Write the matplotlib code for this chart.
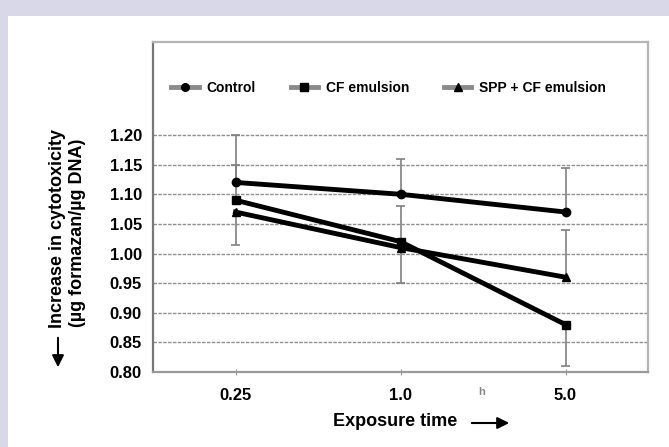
import matplotlib
matplotlib.use("Agg")
import matplotlib.pyplot as plt
import numpy as np
from matplotlib.lines import Line2D
from matplotlib.patches import Rectangle, FancyArrowPatch

plt.rcParams['font.family'] = ['Liberation Sans', 'DejaVu Sans']
plt.rcParams['font.weight'] = 'bold'

# ---- data ----
time_labels = ["0.25", "1.0", "5.0"]
series_names = ["Control", "CF emulsion", "SPP + CF emulsion"]
control = [1.12, 1.10, 1.07]
cf_emulsion = [1.09, 1.02, 0.88]
spp_cf = [1.07, 1.01, 0.96]
control_err_hi = [0.08, 0.06, 0.075]
control_err_lo = [0.0, 0.0, 0.0]
cf_err_hi = [0.06, 0.06, 0.0]
cf_err_lo = [0.0, 0.0, 0.07]
spp_err_hi = [0.0, 0.0, 0.08]
spp_err_lo = [0.055, 0.06, 0.0]
yticks = [0.80, 0.85, 0.90, 0.95, 1.00, 1.05, 1.10, 1.15, 1.20]

W, H = 669, 447
fig = plt.figure(figsize=(W / 100, H / 100), dpi=100)
fig.patch.set_facecolor('#d9d8e9')
fig.add_artist(Rectangle((8 / W, 0), 1, (H - 16) / H, transform=fig.transFigure,
                         facecolor='white', edgecolor='none', zorder=-10))

ax = fig.add_axes([153 / W, (H - 372) / H, (648 - 153) / W, (372 - 42) / H])
ax.set_zorder(1)
ax.set_facecolor('white')
x = np.arange(len(time_labels))

# error bars
err_color = '#808080'
cap = 0.026
for vals, lo, hi in [(control, control_err_lo, control_err_hi),
                     (cf_emulsion, cf_err_lo, cf_err_hi),
                     (spp_cf, spp_err_lo, spp_err_hi)]:
    v = np.array(vals); l = np.array(lo); h = np.array(hi)
    ax.vlines(x, v - l, v + h, color=err_color, lw=1.2, zorder=2)
    m = h > 0
    ax.hlines((v + h)[m], x[m] - cap, x[m] + cap, color=err_color, lw=1.2, zorder=2)
    m = l > 0
    ax.hlines((v - l)[m], x[m] - cap, x[m] + cap, color=err_color, lw=1.2, zorder=2)

markers = ['o', 's', '^']
for vals, mk in zip([control, cf_emulsion, spp_cf], markers):
    ax.plot(x, vals, color='black', lw=3.5, marker=mk, ms=6, zorder=3)

# grid
for yv in yticks[1:]:
    ax.axhline(yv, color='#8f8f8f', lw=1.0, ls=(0, (2.5, 1.0)), zorder=1)

ax.set_xlim(-0.5, 2.5)
ax.set_ylim(0.80, 1.357)
ax.set_yticks(yticks)
ax.set_yticklabels([f"{v:.2f}" for v in yticks], fontsize=12, fontweight='bold')
ax.set_xticks(x)
ax.set_xticklabels(time_labels, fontsize=12, fontweight='bold')
ax.tick_params(axis='y', length=0, pad=8)
ax.tick_params(axis='x', length=5, direction='inout', color='#999999', pad=9)

for s in ['top', 'right']:
    ax.spines[s].set_color('#b5b5b5')
    ax.spines[s].set_linewidth(1.6)
ax.spines['left'].set_color('#777777')
ax.spines['left'].set_linewidth(1.6)
ax.spines['bottom'].set_color('#999999')
ax.spines['bottom'].set_linewidth(1.6)

# legend
handles = [Line2D([0], [0], color='#8a8a8a', lw=3.5, marker=mk, ms=5.5,
                  markerfacecolor='black', markeredgecolor='black') for mk in markers]
leg = ax.legend(handles, series_names, ncol=3, frameon=False, loc='upper left',
                bbox_to_anchor=(0.012, 0.92), handlelength=1.95, handletextpad=0.55,
                columnspacing=2.55, prop={'size': 10, 'weight': 'bold'})

# axis labels
fig.text(57 / W, 1 - 228 / H, "Increase in cytotoxicity", rotation=90,
         ha='center', va='center', fontsize=13, fontweight='bold')
fig.text(77 / W, 1 - 233 / H, "(\u00b5g formazan/\u00b5g DNA)", rotation=90,
         ha='center', va='center', fontsize=13, fontweight='bold')
fig.add_artist(FancyArrowPatch(
    (58 / W, 1 - 335 / H), (58 / W, 1 - 370 / H), transform=fig.transFigure,
    arrowstyle='-|>,head_length=0.5,head_width=0.25', mutation_scale=14, lw=1.5, color='black'))

fig.text(395 / W, 1 - 422 / H, "Exposure time", ha='center', va='center',
         fontsize=13, fontweight='bold')
fig.add_artist(FancyArrowPatch(
    (469 / W, 1 - 423 / H), (512 / W, 1 - 423 / H), transform=fig.transFigure,
    arrowstyle='-|>,head_length=0.5,head_width=0.25', mutation_scale=14, lw=1.5, color='black'))

fig.text(482 / W, 1 - 392 / H, "h", ha='center', va='center', fontsize=8,
         color='#888888', fontweight='bold')

fig.savefig("out.png", dpi=100, facecolor=fig.get_facecolor())
